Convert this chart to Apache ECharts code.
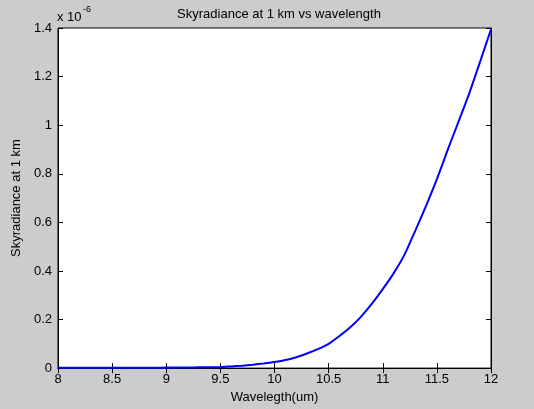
<!DOCTYPE html>
<html>
<head>
<meta charset="utf-8">
<script src="https://cdn.jsdelivr.net/npm/echarts@6/dist/echarts.min.js"></script>
<style>
  html, body { margin: 0; padding: 0; background: #cccccc; }
  #main { width: 534px; height: 409px; }
</style>
</head>
<body>
<div id="main"></div>
<script>
// wavelength in um
const wavelength = [8.0, 8.1, 8.2, 8.3, 8.4, 8.5, 8.6, 8.7, 8.8, 8.9,
  9.0, 9.1, 9.2, 9.3, 9.4, 9.5, 9.6, 9.7, 9.8, 9.9,
  10.0, 10.1, 10.2, 10.3, 10.4, 10.5, 10.6, 10.7, 10.8, 10.9,
  11.0, 11.1, 11.2, 11.3, 11.4, 11.5, 11.6, 11.7, 11.8, 11.9, 12.0];
// skyradiance, in units of 1e-6
const skyradiance = [0.001, 0.001, 0.001, 0.001, 0.001, 0.001, 0.001, 0.001, 0.001, 0.001,
  0.002, 0.002, 0.002, 0.003, 0.003, 0.004, 0.007, 0.010, 0.014, 0.019,
  0.025, 0.033, 0.045, 0.060, 0.078, 0.100, 0.132, 0.168, 0.212, 0.265,
  0.325, 0.390, 0.466, 0.565, 0.668, 0.778, 0.898, 1.015, 1.132, 1.262, 1.395];
const xTicks = [8, 12, 0.5];
const yTicks = [0, 1.4, 0.2];

const chart = echarts.init(document.getElementById('main'));
const font = 'Liberation Sans, Arial, sans-serif';
const black = '#000';

const tickStyle = { show: true, inside: true, length: 5, lineStyle: { color: black, width: 1 } };
const lineStyle = { show: true, lineStyle: { color: black, width: 1 } };

const option = {
  animation: false,
  backgroundColor: '#cccccc',
  title: {
    text: 'Skyradiance at 1 km vs wavelength',
    left: 274, top: 3, textAlign: 'center',
    textStyle: { fontFamily: font, fontSize: 13, fontWeight: 'normal', color: black }
  },
  grid: {
    left: 58, top: 28, right: 43, bottom: 39,
    show: true, backgroundColor: '#ffffff', borderColor: black, borderWidth: 1
  },
  xAxis: [{
    type: 'value', min: xTicks[0], max: xTicks[1], interval: xTicks[2],
    position: 'bottom',
    name: 'Wavelegth(um)', nameLocation: 'middle', nameGap: 20,
    nameTextStyle: { fontFamily: font, fontSize: 13, color: black },
    axisLine: lineStyle, axisTick: tickStyle, splitLine: { show: false },
    axisLabel: { fontFamily: font, fontSize: 13, color: black, margin: 5, showMinLabel: true, showMaxLabel: true }
  }, {
    type: 'value', min: xTicks[0], max: xTicks[1], interval: xTicks[2],
    position: 'top',
    axisLine: lineStyle, axisTick: tickStyle, splitLine: { show: false },
    axisLabel: { show: false }
  }],
  yAxis: [{
    type: 'value', min: yTicks[0], max: yTicks[1], interval: yTicks[2],
    position: 'left',
    name: 'Skyradiance at 1 km', nameLocation: 'middle', nameGap: 29,
    nameTextStyle: { fontFamily: font, fontSize: 13, color: black },
    axisLine: lineStyle, axisTick: tickStyle, splitLine: { show: false },
    axisLabel: { fontFamily: font, fontSize: 13, color: black, margin: 6,
      showMinLabel: true, showMaxLabel: true,
      formatter: v => String(Math.round(v * 10) / 10) }
  }, {
    type: 'value', min: yTicks[0], max: yTicks[1], interval: yTicks[2],
    position: 'right',
    axisLine: lineStyle, axisTick: tickStyle, splitLine: { show: false },
    axisLabel: { show: false }
  }],
  graphic: [
    { type: 'text', left: 57, top: 11,
      style: { text: 'x 10', font: '13px ' + font, fill: black } },
    { type: 'text', left: 83, top: 5,
      style: { text: '-6', font: '9px ' + font, fill: black } }
  ],
  series: [{
    type: 'line',
    xAxisIndex: 0, yAxisIndex: 0,
    data: wavelength.map((w, i) => [w, skyradiance[i]]),
    showSymbol: false,
    smooth: 0.2,
    lineStyle: { color: '#0000ff', width: 2 },
    itemStyle: { color: '#0000ff' }
  }]
};
chart.setOption(option);
</script>
</body>
</html>
